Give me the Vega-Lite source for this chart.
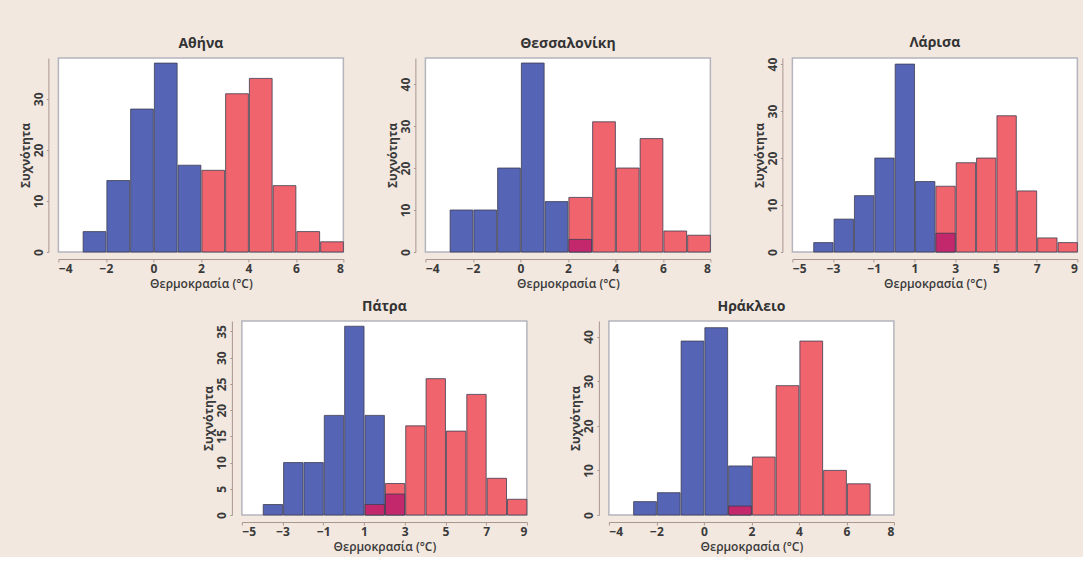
{
  "$schema": "https://vega.github.io/schema/vega-lite/v6.json",
  "background": "#f2e8e0",
  "padding": {"left": 18, "top": 35, "right": 4, "bottom": 4},
  "data": {"values": [
    {"city": "Αθήνα", "lo": -3, "hi": -2, "n": 4, "grp": "blue"},
    {"city": "Αθήνα", "lo": -2, "hi": -1, "n": 14, "grp": "blue"},
    {"city": "Αθήνα", "lo": -1, "hi": 0, "n": 28, "grp": "blue"},
    {"city": "Αθήνα", "lo": 0, "hi": 1, "n": 37, "grp": "blue"},
    {"city": "Αθήνα", "lo": 1, "hi": 2, "n": 17, "grp": "blue"},
    {"city": "Αθήνα", "lo": 2, "hi": 3, "n": 16, "grp": "red"},
    {"city": "Αθήνα", "lo": 3, "hi": 4, "n": 31, "grp": "red"},
    {"city": "Αθήνα", "lo": 4, "hi": 5, "n": 34, "grp": "red"},
    {"city": "Αθήνα", "lo": 5, "hi": 6, "n": 13, "grp": "red"},
    {"city": "Αθήνα", "lo": 6, "hi": 7, "n": 4, "grp": "red"},
    {"city": "Αθήνα", "lo": 7, "hi": 8, "n": 2, "grp": "red"},

    {"city": "Θεσσαλονίκη", "lo": -3, "hi": -2, "n": 10, "grp": "blue"},
    {"city": "Θεσσαλονίκη", "lo": -2, "hi": -1, "n": 10, "grp": "blue"},
    {"city": "Θεσσαλονίκη", "lo": -1, "hi": 0, "n": 20, "grp": "blue"},
    {"city": "Θεσσαλονίκη", "lo": 0, "hi": 1, "n": 45, "grp": "blue"},
    {"city": "Θεσσαλονίκη", "lo": 1, "hi": 2, "n": 12, "grp": "blue"},
    {"city": "Θεσσαλονίκη", "lo": 2, "hi": 3, "n": 13, "grp": "red"},
    {"city": "Θεσσαλονίκη", "lo": 3, "hi": 4, "n": 31, "grp": "red"},
    {"city": "Θεσσαλονίκη", "lo": 4, "hi": 5, "n": 20, "grp": "red"},
    {"city": "Θεσσαλονίκη", "lo": 5, "hi": 6, "n": 27, "grp": "red"},
    {"city": "Θεσσαλονίκη", "lo": 6, "hi": 7, "n": 5, "grp": "red"},
    {"city": "Θεσσαλονίκη", "lo": 7, "hi": 8, "n": 4, "grp": "red"},
    {"city": "Θεσσαλονίκη", "lo": 2, "hi": 3, "n": 3, "grp": "overlap"},

    {"city": "Λάρισα", "lo": -4, "hi": -3, "n": 2, "grp": "blue"},
    {"city": "Λάρισα", "lo": -3, "hi": -2, "n": 7, "grp": "blue"},
    {"city": "Λάρισα", "lo": -2, "hi": -1, "n": 12, "grp": "blue"},
    {"city": "Λάρισα", "lo": -1, "hi": 0, "n": 20, "grp": "blue"},
    {"city": "Λάρισα", "lo": 0, "hi": 1, "n": 40, "grp": "blue"},
    {"city": "Λάρισα", "lo": 1, "hi": 2, "n": 15, "grp": "blue"},
    {"city": "Λάρισα", "lo": 2, "hi": 3, "n": 14, "grp": "red"},
    {"city": "Λάρισα", "lo": 3, "hi": 4, "n": 19, "grp": "red"},
    {"city": "Λάρισα", "lo": 4, "hi": 5, "n": 20, "grp": "red"},
    {"city": "Λάρισα", "lo": 5, "hi": 6, "n": 29, "grp": "red"},
    {"city": "Λάρισα", "lo": 6, "hi": 7, "n": 13, "grp": "red"},
    {"city": "Λάρισα", "lo": 7, "hi": 8, "n": 3, "grp": "red"},
    {"city": "Λάρισα", "lo": 8, "hi": 9, "n": 2, "grp": "red"},
    {"city": "Λάρισα", "lo": 2, "hi": 3, "n": 4, "grp": "overlap"},

    {"city": "Πάτρα", "lo": -4, "hi": -3, "n": 2, "grp": "blue"},
    {"city": "Πάτρα", "lo": -3, "hi": -2, "n": 10, "grp": "blue"},
    {"city": "Πάτρα", "lo": -2, "hi": -1, "n": 10, "grp": "blue"},
    {"city": "Πάτρα", "lo": -1, "hi": 0, "n": 19, "grp": "blue"},
    {"city": "Πάτρα", "lo": 0, "hi": 1, "n": 36, "grp": "blue"},
    {"city": "Πάτρα", "lo": 1, "hi": 2, "n": 19, "grp": "blue"},
    {"city": "Πάτρα", "lo": 2, "hi": 3, "n": 6, "grp": "red"},
    {"city": "Πάτρα", "lo": 3, "hi": 4, "n": 17, "grp": "red"},
    {"city": "Πάτρα", "lo": 4, "hi": 5, "n": 26, "grp": "red"},
    {"city": "Πάτρα", "lo": 5, "hi": 6, "n": 16, "grp": "red"},
    {"city": "Πάτρα", "lo": 6, "hi": 7, "n": 23, "grp": "red"},
    {"city": "Πάτρα", "lo": 7, "hi": 8, "n": 7, "grp": "red"},
    {"city": "Πάτρα", "lo": 8, "hi": 9, "n": 3, "grp": "red"},
    {"city": "Πάτρα", "lo": 1, "hi": 2, "n": 2, "grp": "overlap"},
    {"city": "Πάτρα", "lo": 2, "hi": 3, "n": 4, "grp": "overlap"},

    {"city": "Ηράκλειο", "lo": -3, "hi": -2, "n": 3, "grp": "blue"},
    {"city": "Ηράκλειο", "lo": -2, "hi": -1, "n": 5, "grp": "blue"},
    {"city": "Ηράκλειο", "lo": -1, "hi": 0, "n": 39, "grp": "blue"},
    {"city": "Ηράκλειο", "lo": 0, "hi": 1, "n": 42, "grp": "blue"},
    {"city": "Ηράκλειο", "lo": 1, "hi": 2, "n": 11, "grp": "blue"},
    {"city": "Ηράκλειο", "lo": 2, "hi": 3, "n": 13, "grp": "red"},
    {"city": "Ηράκλειο", "lo": 3, "hi": 4, "n": 29, "grp": "red"},
    {"city": "Ηράκλειο", "lo": 4, "hi": 5, "n": 39, "grp": "red"},
    {"city": "Ηράκλειο", "lo": 5, "hi": 6, "n": 10, "grp": "red"},
    {"city": "Ηράκλειο", "lo": 6, "hi": 7, "n": 7, "grp": "red"},
    {"city": "Ηράκλειο", "lo": 1, "hi": 2, "n": 2, "grp": "overlap"}
  ]},
  "spacing": 9,
  "center": true,
  "vconcat": [
    {
      "spacing": 40,
      "hconcat": [
        {
          "title": "Αθήνα",
          "width": 285, "height": 194,
          "transform": [{"filter": "datum.city === 'Αθήνα'"}],
          "mark": {"type": "bar", "stroke": "#3e3e52", "strokeWidth": 0.8},
          "encoding": {
            "x": {"field": "lo", "type": "quantitative", "bin": {"binned": true, "step": 1}, "scale": {"domain": [-4, 8], "nice": false}, "axis": {"title": "Θερμοκρασία (°C)", "values": [-4, -2, 0, 2, 4, 6, 8], "labelAngle": 0}},
            "x2": {"field": "hi"},
            "y": {"field": "n", "type": "quantitative", "stack": null, "scale": {"domain": [0, 38], "nice": false}, "axis": {"title": "Συχνότητα", "values": [0, 10, 20, 30], "labelAngle": -90, "labelAlign": "center", "labelBaseline": "bottom"}},
            "color": {"field": "grp", "type": "nominal", "legend": null, "scale": {"domain": ["blue", "red", "overlap"], "range": ["#5564b4", "#f0646e", "#c4286c"]}}
          }
        },
        {
          "title": "Θεσσαλονίκη",
          "width": 285, "height": 194,
          "transform": [{"filter": "datum.city === 'Θεσσαλονίκη'"}],
          "mark": {"type": "bar", "stroke": "#3e3e52", "strokeWidth": 0.8},
          "encoding": {
            "x": {"field": "lo", "type": "quantitative", "bin": {"binned": true, "step": 1}, "scale": {"domain": [-4, 8], "nice": false}, "axis": {"title": "Θερμοκρασία (°C)", "values": [-4, -2, 0, 2, 4, 6, 8], "labelAngle": 0}},
            "x2": {"field": "hi"},
            "y": {"field": "n", "type": "quantitative", "stack": null, "scale": {"domain": [0, 46.2], "nice": false}, "axis": {"title": "Συχνότητα", "values": [0, 10, 20, 30, 40], "labelAngle": -90, "labelAlign": "center", "labelBaseline": "bottom"}},
            "color": {"field": "grp", "type": "nominal", "legend": null, "scale": {"domain": ["blue", "red", "overlap"], "range": ["#5564b4", "#f0646e", "#c4286c"]}}
          }
        },
        {
          "title": "Λάρισα",
          "width": 285, "height": 194,
          "transform": [{"filter": "datum.city === 'Λάρισα'"}],
          "mark": {"type": "bar", "stroke": "#3e3e52", "strokeWidth": 0.8},
          "encoding": {
            "x": {"field": "lo", "type": "quantitative", "bin": {"binned": true, "step": 1}, "scale": {"domain": [-5, 9], "nice": false}, "axis": {"title": "Θερμοκρασία (°C)", "values": [-5, -3, -1, 1, 3, 5, 7, 9], "labelAngle": 0}},
            "x2": {"field": "hi"},
            "y": {"field": "n", "type": "quantitative", "stack": null, "scale": {"domain": [0, 41.3], "nice": false}, "axis": {"title": "Συχνότητα", "values": [0, 10, 20, 30, 40], "labelAngle": -90, "labelAlign": "center", "labelBaseline": "bottom"}},
            "color": {"field": "grp", "type": "nominal", "legend": null, "scale": {"domain": ["blue", "red", "overlap"], "range": ["#5564b4", "#f0646e", "#c4286c"]}}
          }
        }
      ]
    },
    {
      "spacing": 40,
      "hconcat": [
        {
          "title": "Πάτρα",
          "width": 285, "height": 194,
          "transform": [{"filter": "datum.city === 'Πάτρα'"}],
          "mark": {"type": "bar", "stroke": "#3e3e52", "strokeWidth": 0.8},
          "encoding": {
            "x": {"field": "lo", "type": "quantitative", "bin": {"binned": true, "step": 1}, "scale": {"domain": [-5, 9], "nice": false}, "axis": {"title": "Θερμοκρασία (°C)", "values": [-5, -3, -1, 1, 3, 5, 7, 9], "labelAngle": 0}},
            "x2": {"field": "hi"},
            "y": {"field": "n", "type": "quantitative", "stack": null, "scale": {"domain": [0, 37], "nice": false}, "axis": {"title": "Συχνότητα", "values": [0, 5, 10, 15, 20, 25, 30, 35], "labelAngle": -90, "labelAlign": "center", "labelBaseline": "bottom"}},
            "color": {"field": "grp", "type": "nominal", "legend": null, "scale": {"domain": ["blue", "red", "overlap"], "range": ["#5564b4", "#f0646e", "#c4286c"]}}
          }
        },
        {
          "title": "Ηράκλειο",
          "width": 285, "height": 194,
          "transform": [{"filter": "datum.city === 'Ηράκλειο'"}],
          "mark": {"type": "bar", "stroke": "#3e3e52", "strokeWidth": 0.8},
          "encoding": {
            "x": {"field": "lo", "type": "quantitative", "bin": {"binned": true, "step": 1}, "scale": {"domain": [-4, 8], "nice": false}, "axis": {"title": "Θερμοκρασία (°C)", "values": [-4, -2, 0, 2, 4, 6, 8], "labelAngle": 0}},
            "x2": {"field": "hi"},
            "y": {"field": "n", "type": "quantitative", "stack": null, "scale": {"domain": [0, 43.5], "nice": false}, "axis": {"title": "Συχνότητα", "values": [0, 10, 20, 30, 40], "labelAngle": -90, "labelAlign": "center", "labelBaseline": "bottom"}},
            "color": {"field": "grp", "type": "nominal", "legend": null, "scale": {"domain": ["blue", "red", "overlap"], "range": ["#5564b4", "#f0646e", "#c4286c"]}}
          }
        }
      ]
    }
  ],
  "config": {
    "font": "Open Sans",
    "view": {"fill": "white", "stroke": "#b4b4bc", "strokeWidth": 1.5},
    "title": {"fontSize": 14, "fontWeight": "bold", "color": "#333333", "anchor": "middle", "offset": 7, "font": "Open Sans"},
    "axis": {"grid": false, "domainColor": "#a8968f", "tickColor": "#a8968f", "labelFontSize": 12, "labelFontWeight": "bold", "labelColor": "#3a3a3a", "titleFontSize": 12, "titleFontWeight": "bold", "titleColor": "#3a3a3a", "labelFont": "Open Sans", "titleFont": "Open Sans"},
    "axisX": {"offset": 7, "tickSize": 3, "labelPadding": 1, "titlePadding": 4, "titleFontWeight": 600},
    "axisY": {"offset": 10, "tickSize": 2, "labelPadding": 1, "titlePadding": 0}
  }
}
